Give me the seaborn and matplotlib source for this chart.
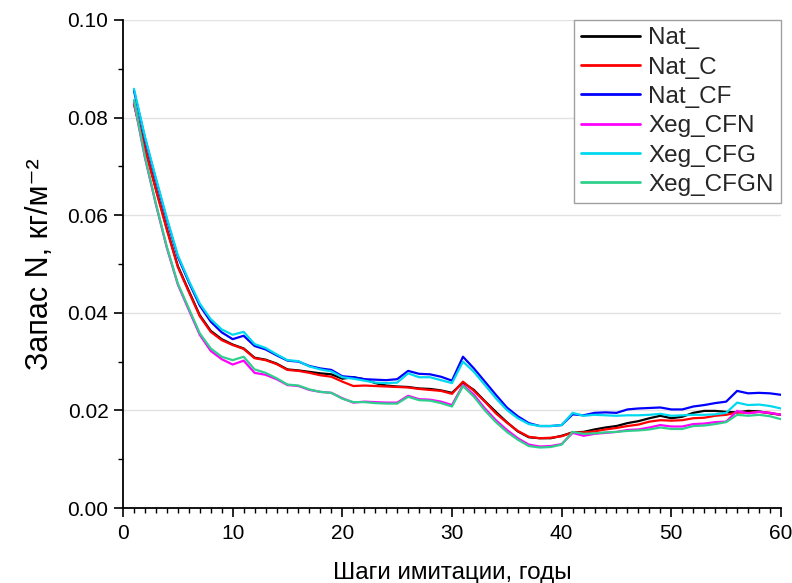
import numpy as np
import pandas as pd
import matplotlib
matplotlib.use("Agg")
import matplotlib.pyplot as plt
from matplotlib.ticker import MultipleLocator, FormatStrFormatter
import seaborn as sns

years = list(range(1, 61))

nat_ = [0.0830, 0.0739, 0.0654, 0.0572, 0.0496, 0.0445, 0.0395, 0.0363, 0.0346, 0.0335,
        0.0327, 0.0308, 0.0304, 0.0296, 0.0284, 0.0282, 0.0279, 0.0276, 0.0274, 0.0265,
        0.0268, 0.0264, 0.0256, 0.0251, 0.0249, 0.0248, 0.0245, 0.0244, 0.0241, 0.0236,
        0.0257, 0.0242, 0.0219, 0.0197, 0.0176, 0.0157, 0.0145, 0.0143, 0.0143, 0.0148,
        0.0155, 0.0156, 0.0161, 0.0165, 0.0168, 0.0174, 0.0178, 0.0184, 0.0189, 0.0184,
        0.0187, 0.0195, 0.0199, 0.0199, 0.0197, 0.0196, 0.0199, 0.0198, 0.0194, 0.0191]

nat_c = [0.0827, 0.0737, 0.0652, 0.0570, 0.0494, 0.0443, 0.0393, 0.0361, 0.0344, 0.0334,
         0.0326, 0.0307, 0.0303, 0.0295, 0.0283, 0.0281, 0.0277, 0.0272, 0.0269, 0.0259,
         0.0250, 0.0251, 0.0250, 0.0249, 0.0248, 0.0247, 0.0244, 0.0242, 0.0240, 0.0234,
         0.0259, 0.0240, 0.0218, 0.0194, 0.0175, 0.0158, 0.0146, 0.0143, 0.0144, 0.0147,
         0.0155, 0.0155, 0.0157, 0.0161, 0.0164, 0.0168, 0.0171, 0.0177, 0.0180, 0.0179,
         0.0180, 0.0184, 0.0185, 0.0189, 0.0191, 0.0196, 0.0195, 0.0197, 0.0195, 0.0191]

nat_cf = [0.0855, 0.0758, 0.0673, 0.0591, 0.0515, 0.0463, 0.0415, 0.0382, 0.0360, 0.0346,
          0.0353, 0.0332, 0.0325, 0.0313, 0.0302, 0.0300, 0.0291, 0.0286, 0.0283, 0.0270,
          0.0268, 0.0264, 0.0263, 0.0262, 0.0264, 0.0281, 0.0275, 0.0274, 0.0269, 0.0261,
          0.0310, 0.0286, 0.0259, 0.0232, 0.0206, 0.0188, 0.0174, 0.0168, 0.0168, 0.0170,
          0.0192, 0.0190, 0.0195, 0.0196, 0.0195, 0.0202, 0.0204, 0.0205, 0.0206, 0.0202,
          0.0202, 0.0208, 0.0211, 0.0215, 0.0218, 0.0240, 0.0235, 0.0236, 0.0235, 0.0232]

xeg_cfn = [0.0832, 0.0718, 0.0622, 0.0533, 0.0458, 0.0406, 0.0355, 0.0322, 0.0305, 0.0294,
           0.0302, 0.0277, 0.0273, 0.0264, 0.0252, 0.0250, 0.0242, 0.0238, 0.0236, 0.0225,
           0.0216, 0.0218, 0.0217, 0.0216, 0.0216, 0.0230, 0.0223, 0.0222, 0.0218, 0.0211,
           0.0252, 0.0232, 0.0204, 0.0180, 0.0160, 0.0143, 0.0130, 0.0126, 0.0127, 0.0131,
           0.0154, 0.0148, 0.0152, 0.0154, 0.0156, 0.0160, 0.0161, 0.0165, 0.0170, 0.0167,
           0.0167, 0.0172, 0.0173, 0.0176, 0.0177, 0.0199, 0.0194, 0.0197, 0.0195, 0.0191]

xeg_cfg = [0.0859, 0.0761, 0.0676, 0.0594, 0.0518, 0.0466, 0.0419, 0.0387, 0.0366, 0.0355,
           0.0361, 0.0336, 0.0328, 0.0315, 0.0303, 0.0301, 0.0290, 0.0284, 0.0280, 0.0268,
           0.0265, 0.0261, 0.0257, 0.0256, 0.0257, 0.0276, 0.0268, 0.0268, 0.0262, 0.0256,
           0.0300, 0.0279, 0.0252, 0.0225, 0.0201, 0.0184, 0.0172, 0.0168, 0.0168, 0.0170,
           0.0195, 0.0189, 0.0191, 0.0190, 0.0189, 0.0190, 0.0190, 0.0191, 0.0193, 0.0189,
           0.0190, 0.0191, 0.0191, 0.0192, 0.0195, 0.0216, 0.0211, 0.0212, 0.0209, 0.0204]

xeg_cfgn = [0.0836, 0.0720, 0.0624, 0.0535, 0.0460, 0.0409, 0.0358, 0.0327, 0.0310, 0.0303,
            0.0310, 0.0284, 0.0277, 0.0266, 0.0253, 0.0251, 0.0243, 0.0238, 0.0236, 0.0224,
            0.0217, 0.0217, 0.0215, 0.0214, 0.0214, 0.0228, 0.0221, 0.0220, 0.0215, 0.0208,
            0.0250, 0.0228, 0.0200, 0.0176, 0.0156, 0.0140, 0.0127, 0.0124, 0.0125, 0.0130,
            0.0156, 0.0152, 0.0153, 0.0155, 0.0156, 0.0158, 0.0159, 0.0161, 0.0165, 0.0162,
            0.0162, 0.0168, 0.0169, 0.0172, 0.0176, 0.0191, 0.0189, 0.0191, 0.0188, 0.0182]

series_names = ["Nat_", "Nat_C", "Nat_CF", "Xeg_CFN", "Xeg_CFG", "Xeg_CFGN"]
series_values = [nat_, nat_c, nat_cf, xeg_cfn, xeg_cfg, xeg_cfgn]
series_colors = ["#000000", "#ff0000", "#0000ff", "#ff00ff", "#00d8f0", "#30d08c"]

df = pd.DataFrame({
    "year": np.tile(years, len(series_names)),
    "value": np.concatenate(series_values),
    "scenario": np.repeat(series_names, len(years)),
})

sns.set_theme(style="white")
plt.rcParams["font.family"] = ["Liberation Sans", "DejaVu Sans"]

fig = plt.figure(figsize=(7.92, 5.83), dpi=100)
ax = fig.add_axes([0.1553, 0.1286, 0.8308, 0.8371])

sns.lineplot(data=df, x="year", y="value", hue="scenario",
             hue_order=series_names, palette=dict(zip(series_names, series_colors)),
             linewidth=1.6, ax=ax, legend=True)

ax.set_xlim(0, 60)
ax.set_ylim(0, 0.10)
ax.xaxis.set_major_locator(MultipleLocator(10))
ax.xaxis.set_minor_locator(MultipleLocator(1))
ax.yaxis.set_major_locator(MultipleLocator(0.02))
ax.yaxis.set_minor_locator(MultipleLocator(0.01))
ax.yaxis.set_major_formatter(FormatStrFormatter("%.2f"))

ax.grid(axis="y", which="major", color="#e2e2e2", linewidth=1.0)
ax.grid(axis="x", visible=False)

for side in ("top", "right"):
    ax.spines[side].set_visible(False)
for side in ("left", "bottom"):
    ax.spines[side].set_color("black")
    ax.spines[side].set_linewidth(1.3)

ax.tick_params(axis="both", which="major", direction="out", length=6.5, width=1.2,
               color="black", labelsize=15, labelcolor="black", bottom=True, left=True)
ax.tick_params(axis="x", which="major", pad=5)
ax.tick_params(axis="y", which="major", pad=4)
ax.tick_params(axis="both", which="minor", direction="out", length=3.5, width=1.0,
               color="black", bottom=True, left=True)

ax.set_xlabel("Шаги имитации, годы", fontsize=17.5, color="black", labelpad=14)
ax.set_ylabel("Запас N, кг/м⁻²", fontsize=22, color="black", labelpad=9)

leg = ax.legend(loc="upper right", fontsize=17.5, frameon=True, fancybox=False,
                borderaxespad=0.0, handlelength=2.4, labelspacing=0.3,
                handletextpad=0.35, borderpad=0.3)
leg.get_frame().set_edgecolor("#a0a0a0")
leg.get_frame().set_linewidth(1.0)
leg.get_frame().set_alpha(1.0)
for line in leg.get_lines():
    line.set_linewidth(2.0)

fig.savefig("out.png", dpi=100)
